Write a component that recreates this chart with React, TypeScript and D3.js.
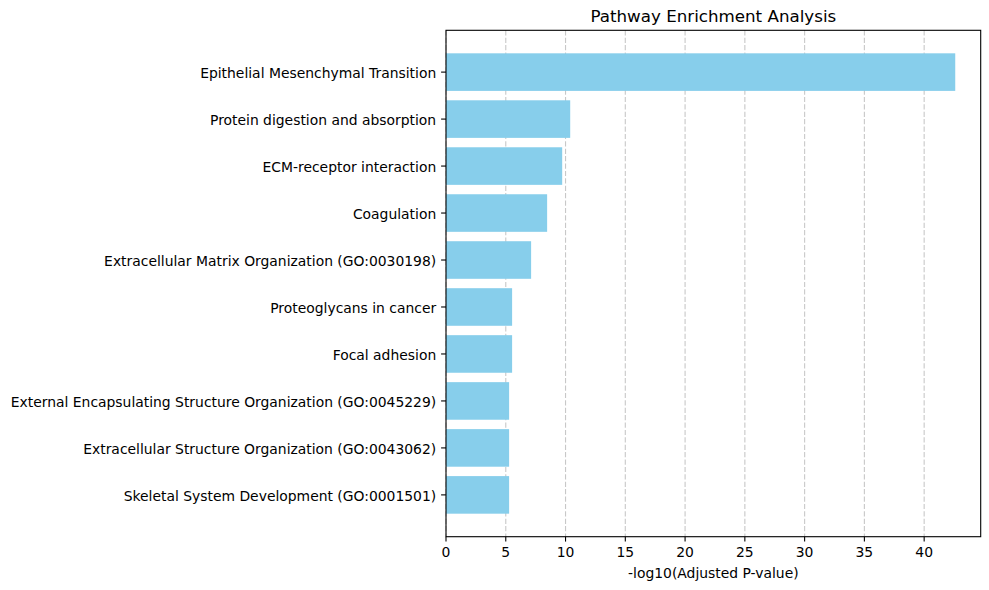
import { useEffect, useRef } from 'react';
import * as d3 from 'd3';

// Enrichment terms, top to bottom, and their -log10(adjusted p) scores
const pathways = [
  'Epithelial Mesenchymal Transition',
  'Protein digestion and absorption',
  'ECM-receptor interaction',
  'Coagulation',
  'Extracellular Matrix Organization (GO:0030198)',
  'Proteoglycans in cancer',
  'Focal adhesion',
  'External Encapsulating Structure Organization (GO:0045229)',
  'Extracellular Structure Organization (GO:0043062)',
  'Skeletal System Development (GO:0001501)',
];
const scores = [42.6, 10.39, 9.72, 8.46, 7.12, 5.53, 5.53, 5.28, 5.28, 5.28];
const xTicks = [0, 5, 10, 15, 20, 25, 30, 35, 40];

const W = 989;
const H = 590;
const margin = { top: 30.3, right: 8.3, bottom: 53.3, left: 446 };
const FONT = '"DejaVu Sans", sans-serif';
const BAR_COLOR = '#87CEEB';

export default function App() {
  const svgRef = useRef<SVGSVGElement>(null);

  useEffect(() => {
    document.body.style.margin = '0';
    const svg = d3.select(svgRef.current);
    svg.selectAll('*').remove();

    const x0 = margin.left;
    const x1 = W - margin.right;
    const y0 = margin.top;
    const y1 = H - margin.bottom;

    // matplotlib-style 5% margins around the data extent
    const xMax = (d3.max(scores) ?? 0) * 1.05;
    const x = d3.scaleLinear().domain([0, xMax]).range([x0, x1]);
    const n = pathways.length;
    const half = 0.4;
    const pad = (n - 1 + 2 * half) * 0.05;
    const y = d3
      .scaleLinear()
      .domain([-half - pad, n - 1 + half + pad])
      .range([y0, y1]);

    svg.append('rect').attr('width', W).attr('height', H).attr('fill', '#fff');

    // dashed vertical grid under the bars
    svg
      .append('g')
      .selectAll('line')
      .data(xTicks)
      .enter()
      .append('line')
      .attr('x1', (d) => x(d))
      .attr('x2', (d) => x(d))
      .attr('y1', y0)
      .attr('y2', y1)
      .attr('stroke', '#b0b0b0')
      .attr('stroke-opacity', 0.7)
      .attr('stroke-width', 1.1)
      .attr('stroke-dasharray', '5.2,2.2');

    svg
      .append('g')
      .selectAll('rect')
      .data(scores)
      .enter()
      .append('rect')
      .attr('x', x(0))
      .attr('y', (_d, i) => y(i - half))
      .attr('width', (d) => x(d) - x(0))
      .attr('height', (_d, i) => y(i + half) - y(i - half))
      .attr('fill', BAR_COLOR);

    // frame
    svg
      .append('rect')
      .attr('x', x0)
      .attr('y', y0)
      .attr('width', x1 - x0)
      .attr('height', y1 - y0)
      .attr('fill', 'none')
      .attr('stroke', '#000')
      .attr('stroke-width', 1.1);

    const tickLen = 4.9;

    // x axis ticks and labels
    const xg = svg.append('g');
    xg.selectAll('line')
      .data(xTicks)
      .enter()
      .append('line')
      .attr('x1', (d) => x(d))
      .attr('x2', (d) => x(d))
      .attr('y1', y1)
      .attr('y2', y1 + tickLen)
      .attr('stroke', '#000')
      .attr('stroke-width', 1.1);
    xg.selectAll('text')
      .data(xTicks)
      .enter()
      .append('text')
      .attr('x', (d) => x(d))
      .attr('y', y1 + 20)
      .attr('text-anchor', 'middle')
      .attr('font-family', FONT)
      .attr('font-size', '13.9px')
      .attr('fill', '#000')
      .text((d) => d);

    // y axis ticks and category labels
    const yg = svg.append('g');
    yg.selectAll('line')
      .data(pathways)
      .enter()
      .append('line')
      .attr('x1', x0 - tickLen)
      .attr('x2', x0)
      .attr('y1', (_d, i) => y(i))
      .attr('y2', (_d, i) => y(i))
      .attr('stroke', '#000')
      .attr('stroke-width', 1.1);
    yg.selectAll('text')
      .data(pathways)
      .enter()
      .append('text')
      .attr('x', x0 - tickLen - 4.9)
      .attr('y', (_d, i) => y(i))
      .attr('dy', '0.45em')
      .attr('text-anchor', 'end')
      .attr('font-family', FONT)
      .attr('font-size', '13.9px')
      .attr('fill', '#000')
      .text((d) => d);

    svg
      .append('text')
      .attr('x', (x0 + x1) / 2)
      .attr('y', y1 + 41)
      .attr('text-anchor', 'middle')
      .attr('font-family', FONT)
      .attr('font-size', '13.9px')
      .attr('fill', '#000')
      .text('-log10(Adjusted P-value)');

    svg
      .append('text')
      .attr('x', (x0 + x1) / 2)
      .attr('y', 22.3)
      .attr('text-anchor', 'middle')
      .attr('font-family', FONT)
      .attr('font-size', '16.7px')
      .attr('fill', '#000')
      .text('Pathway Enrichment Analysis');
  }, []);

  return <svg ref={svgRef} width={W} height={H} style={{ display: 'block' }} />;
}
